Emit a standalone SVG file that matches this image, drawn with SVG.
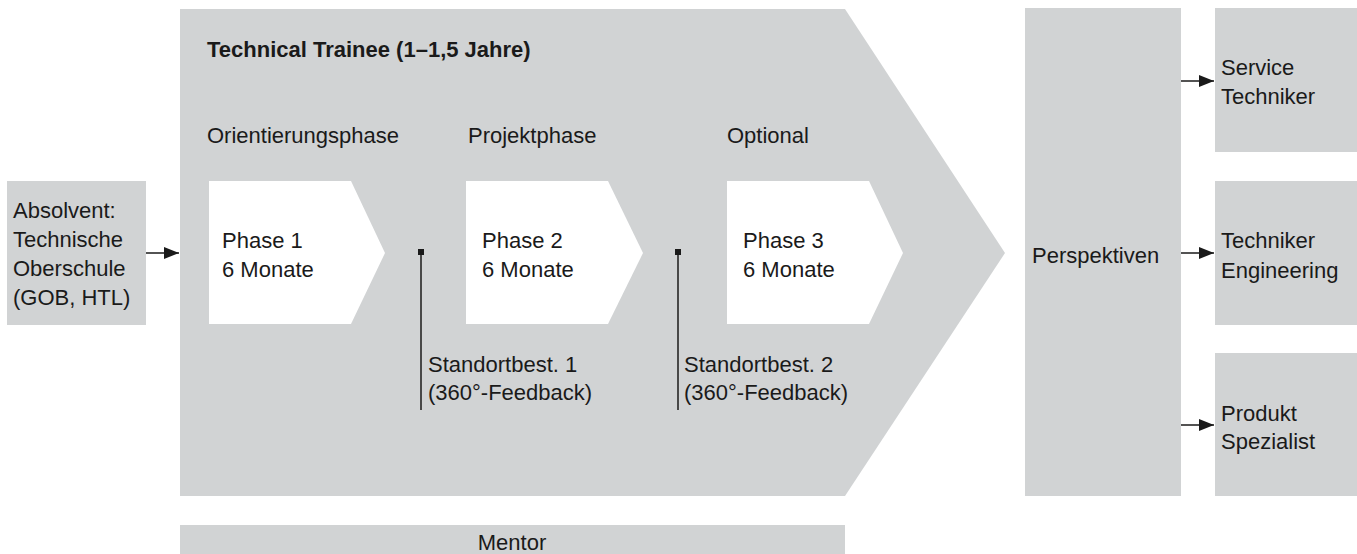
<svg xmlns="http://www.w3.org/2000/svg" width="1357" height="554" viewBox="0 0 1357 554">
  <style>
    .g { fill: #d1d3d4; }
    .w { fill: #ffffff; }
    .t { font-family: "Liberation Sans", Arial, sans-serif; font-size: 22px; fill: #1a1a1a; }
    .b { font-weight: bold; }
    .c { stroke: #1a1a1a; stroke-width: 1.5; fill: none; }
  </style>
  <defs>
    <marker id="ah" markerUnits="userSpaceOnUse" markerWidth="16" markerHeight="12" refX="15" refY="6" orient="auto">
      <path d="M0,0 L15,6 L0,12 Z" fill="#1a1a1a"/>
    </marker>
  </defs>

  <g id="absolvent">
    <rect class="g" x="7" y="181" width="139" height="144"/>
    <text class="t" x="13" y="218">Absolvent:</text>
    <text class="t" x="13" y="247">Technische</text>
    <text class="t" x="13" y="276">Oberschule</text>
    <text class="t" x="13" y="305">(GOB, HTL)</text>
  </g>

  <g id="trainee">
    <polygon class="g" points="180,9 845,9 1005,253 845,496 180,496"/>
    <text class="t b" x="207" y="57">Technical Trainee (1–1,5 Jahre)</text>
    <text class="t" x="207" y="143">Orientierungsphase</text>
    <text class="t" x="468" y="143">Projektphase</text>
    <text class="t" x="727" y="143">Optional</text>
  </g>

  <g id="phase1">
    <polygon class="w" points="209,181 351,181 385,253 351,324 209,324"/>
    <text class="t" x="222" y="248">Phase 1</text>
    <text class="t" x="222" y="277">6 Monate</text>
  </g>
  <g id="phase2">
    <polygon class="w" points="466,181 608,181 643,253 608,324 466,324"/>
    <text class="t" x="482" y="248">Phase 2</text>
    <text class="t" x="482" y="277">6 Monate</text>
  </g>
  <g id="phase3">
    <polygon class="w" points="727,181 869,181 903,253 869,324 727,324"/>
    <text class="t" x="743" y="248">Phase 3</text>
    <text class="t" x="743" y="277">6 Monate</text>
  </g>

  <g id="standort1">
    <rect x="418" y="249" width="6" height="6" fill="#1a1a1a"/>
    <line class="c" x1="421" y1="252" x2="421" y2="410"/>
    <text class="t" x="428" y="372">Standortbest. 1</text>
    <text class="t" x="428" y="400">(360°-Feedback)</text>
  </g>
  <g id="standort2">
    <rect x="675" y="249" width="6" height="6" fill="#1a1a1a"/>
    <line class="c" x1="678" y1="252" x2="678" y2="410"/>
    <text class="t" x="684" y="372">Standortbest. 2</text>
    <text class="t" x="684" y="400">(360°-Feedback)</text>
  </g>

  <g id="mentor">
    <rect class="g" x="180" y="525" width="665" height="29"/>
    <text class="t" x="512" y="550" text-anchor="middle">Mentor</text>
  </g>

  <g id="perspektiven">
    <rect class="g" x="1025" y="8" width="156" height="488"/>
    <text class="t" x="1032" y="263">Perspektiven</text>
  </g>

  <g id="service">
    <rect class="g" x="1215" y="8" width="142" height="144"/>
    <text class="t" x="1221" y="75">Service</text>
    <text class="t" x="1221" y="104">Techniker</text>
  </g>
  <g id="engineering">
    <rect class="g" x="1215" y="181" width="142" height="144"/>
    <text class="t" x="1221" y="248">Techniker</text>
    <text class="t" x="1221" y="278">Engineering</text>
  </g>
  <g id="spezialist">
    <rect class="g" x="1215" y="353" width="142" height="143"/>
    <text class="t" x="1221" y="421">Produkt</text>
    <text class="t" x="1221" y="449">Spezialist</text>
  </g>

  <g id="connectors">
    <line class="c" x1="146" y1="253" x2="179" y2="253" marker-end="url(#ah)"/>
    <line class="c" x1="1181" y1="81" x2="1214" y2="81" marker-end="url(#ah)"/>
    <line class="c" x1="1181" y1="253" x2="1214" y2="253" marker-end="url(#ah)"/>
    <line class="c" x1="1181" y1="425" x2="1214" y2="425" marker-end="url(#ah)"/>
  </g>
</svg>
